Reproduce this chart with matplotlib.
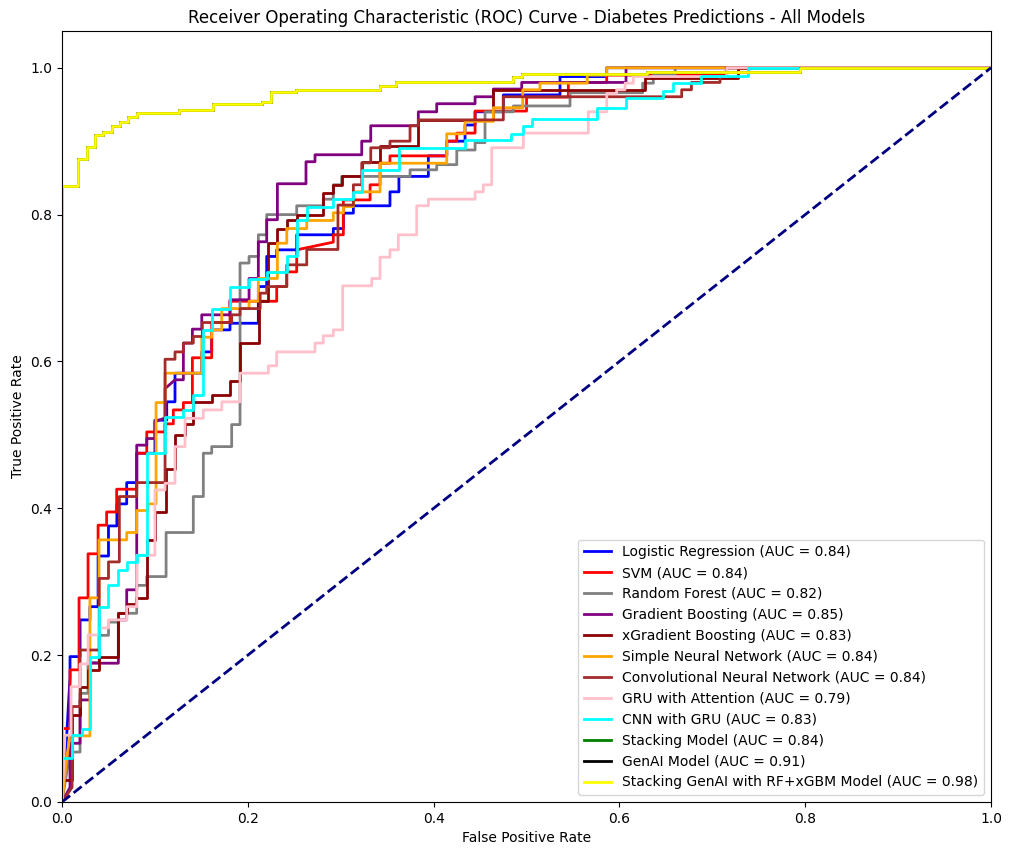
import matplotlib
matplotlib.use("Agg")
import matplotlib.pyplot as plt

# ROC points (fpr, tpr corners)
lr_fpr = [0, 0.005, 0.0086, 0.0086, 0.0194, 0.0194, 0.03, 0.03, 0.0388, 0.0388, 0.05, 0.05, 0.059, 0.059,
          0.0696, 0.0696, 0.0804, 0.0804, 0.10, 0.10, 0.1127, 0.1127, 0.1216, 0.1216, 0.1504, 0.1504, 0.1611,
          0.1611, 0.1808, 0.1808, 0.2113, 0.2113, 0.2203, 0.2203, 0.2311, 0.2311, 0.2526, 0.2526, 0.292, 0.292,
          0.3028, 0.3028, 0.3136, 0.3136, 0.353, 0.353, 0.3626, 0.3626, 0.3943, 0.3943, 0.4141, 0.4141, 0.4338,
          0.4338, 0.4446, 0.4446, 0.475, 0.475, 0.536, 0.536, 0.5863, 0.5863, 1.0]
lr_tpr = [0, 0.09, 0.17, 0.198, 0.198, 0.248, 0.248, 0.266, 0.266, 0.335, 0.335, 0.376, 0.376, 0.406,
          0.406, 0.435, 0.435, 0.475, 0.475, 0.52, 0.52, 0.545, 0.545, 0.584, 0.584, 0.613, 0.613,
          0.643, 0.643, 0.652, 0.652, 0.702, 0.702, 0.743, 0.743, 0.752, 0.752, 0.7725, 0.7725, 0.781,
          0.781, 0.802, 0.802, 0.812, 0.812, 0.831, 0.831, 0.852, 0.852, 0.88, 0.88, 0.90, 0.90,
          0.922, 0.922, 0.94, 0.94, 0.963, 0.963, 0.988, 0.988, 1.0, 1.0]

svm_fpr = [0, 0, 0.0086, 0.0086, 0.0183, 0.0183, 0.028, 0.028, 0.0388, 0.0388, 0.048, 0.048, 0.0588, 0.0588,
           0.0804, 0.0804, 0.0912, 0.0912, 0.1109, 0.1109, 0.1198, 0.1198, 0.1306, 0.1306, 0.1403, 0.1403,
           0.1611, 0.1611, 0.1808, 0.1808, 0.2311, 0.2311, 0.2419, 0.2419, 0.2526, 0.2526, 0.292, 0.292,
           0.3028, 0.3028, 0.3316, 0.3316, 0.3423, 0.3423, 0.353, 0.353, 0.4141, 0.4141, 0.4249, 0.4249,
           0.4446, 0.4446, 0.50, 0.50, 0.545, 0.545, 0.5863, 0.5863, 0.7155, 0.7155, 1.0]
svm_tpr = [0, 0.10, 0.10, 0.18, 0.18, 0.278, 0.278, 0.338, 0.338, 0.377, 0.377, 0.395, 0.395, 0.426,
           0.426, 0.475, 0.475, 0.504, 0.504, 0.515, 0.515, 0.534, 0.534, 0.544, 0.544, 0.605,
           0.605, 0.653, 0.653, 0.682, 0.682, 0.702, 0.702, 0.722, 0.722, 0.752, 0.7625, 0.7725,
           0.7725, 0.82, 0.82, 0.8406, 0.8406, 0.870, 0.870, 0.88, 0.88, 0.90, 0.90, 0.911,
           0.911, 0.941, 0.941, 0.96, 0.96, 0.98, 0.98, 0.99, 0.99, 1.0, 1.0]

rf_fpr = [0, 0.005, 0.0086, 0.0194, 0.0194, 0.028, 0.028, 0.040, 0.040, 0.05, 0.05, 0.0606, 0.0606, 0.0696,
          0.0696, 0.0804, 0.0804, 0.0912, 0.0912, 0.1120, 0.1120, 0.1413, 0.1413, 0.1521, 0.1521, 0.1611,
          0.1611, 0.1826, 0.1826, 0.1916, 0.1916, 0.2013, 0.2013, 0.2113, 0.2113, 0.2203, 0.2203, 0.2526,
          0.2526, 0.2812, 0.2812, 0.292, 0.292, 0.301, 0.301, 0.3746, 0.3746, 0.4033, 0.4033, 0.4249, 0.4249,
          0.4446, 0.4446, 0.4553, 0.4553, 0.4858, 0.4858, 0.5468, 0.5468, 0.625, 0.625, 0.6365, 0.6365,
          0.66, 0.66, 1.0]
rf_tpr = [0, 0.04, 0.068, 0.068, 0.148, 0.148, 0.19, 0.19, 0.227, 0.227, 0.245, 0.245, 0.257, 0.257,
          0.257, 0.257, 0.295, 0.295, 0.307, 0.307, 0.367, 0.367, 0.416, 0.416, 0.475, 0.475,
          0.484, 0.484, 0.514, 0.514, 0.734, 0.734, 0.743, 0.743, 0.7725, 0.7725, 0.80, 0.80,
          0.812, 0.812, 0.821, 0.821, 0.8406, 0.8406, 0.852, 0.852, 0.861, 0.861, 0.868, 0.868, 0.888,
          0.888, 0.898, 0.898, 0.940, 0.940, 0.948, 0.948, 0.966, 0.966, 0.979, 0.979, 0.99,
          0.99, 1.0, 1.0]

gb_fpr = [0, 0.0086, 0.0086, 0.0194, 0.0194, 0.03, 0.03, 0.0606, 0.0606, 0.0696, 0.0696, 0.0804, 0.0804,
          0.0912, 0.0912, 0.10, 0.10, 0.1109, 0.1109, 0.1216, 0.1306, 0.1306, 0.1403, 0.1403, 0.1504, 0.1504,
          0.1808, 0.1808, 0.2013, 0.2013, 0.2113, 0.2113, 0.2203, 0.2203, 0.2318, 0.2318, 0.2626, 0.2626,
          0.2723, 0.2723, 0.3226, 0.3226, 0.3323, 0.3323, 0.3835, 0.3835, 0.4033, 0.4033, 0.4446, 0.4446,
          0.4643, 0.4643, 0.4948, 0.4948, 0.6071, 0.6071, 1.0]
gb_tpr = [0, 0.02, 0.08, 0.08, 0.139, 0.139, 0.189, 0.189, 0.248, 0.248, 0.289, 0.289, 0.486,
          0.486, 0.495, 0.495, 0.518, 0.523, 0.563, 0.575, 0.575, 0.625, 0.625, 0.644, 0.644, 0.6635,
          0.6635, 0.684, 0.684, 0.713, 0.713, 0.763, 0.763, 0.793, 0.793, 0.842, 0.842, 0.872,
          0.872, 0.8815, 0.8815, 0.90, 0.90, 0.921, 0.921, 0.940, 0.940, 0.951, 0.951, 0.9605,
          0.9605, 0.971, 0.971, 0.98, 0.98, 1.0, 1.0]

xgb_fpr = [0, 0, 0.0108, 0.0108, 0.0194, 0.0194, 0.028, 0.028, 0.04, 0.04, 0.0606, 0.0606, 0.0696, 0.0696,
           0.08, 0.08, 0.0918, 0.0918, 0.1, 0.1, 0.1118, 0.1118, 0.122, 0.122, 0.1325, 0.1325, 0.1415, 0.1415,
           0.1611, 0.1611, 0.1808, 0.1808, 0.1916, 0.1916, 0.2124, 0.2124, 0.222, 0.222, 0.2311, 0.2311,
           0.2419, 0.2419, 0.2526, 0.2526, 0.2812, 0.2812, 0.292, 0.292, 0.301, 0.301, 0.3226, 0.3226,
           0.3423, 0.3423, 0.3835, 0.3835, 0.4643, 0.4643, 0.6276, 0.6276, 0.7277, 0.7277, 1.0]
xgb_tpr = [0, 0.03, 0.03, 0.118, 0.118, 0.157, 0.157, 0.18, 0.18, 0.198, 0.198, 0.257, 0.257, 0.27,
           0.27, 0.278, 0.278, 0.357, 0.357, 0.395, 0.395, 0.454, 0.454, 0.50, 0.50, 0.515, 0.515, 0.545,
           0.545, 0.5545, 0.5545, 0.574, 0.574, 0.625, 0.625, 0.682, 0.682, 0.761, 0.761, 0.781,
           0.781, 0.793, 0.793, 0.80, 0.80, 0.83, 0.83, 0.8406, 0.8406, 0.852, 0.852, 0.871,
           0.871, 0.893, 0.893, 0.929, 0.929, 0.97, 0.97, 0.9865, 0.9865, 1.0, 1.0]

snn_fpr = [0, 0.005, 0.0086, 0.03, 0.03, 0.0398, 0.0398, 0.0696, 0.0696, 0.0804, 0.0804, 0.0922, 0.0922,
           0.1012, 0.1012, 0.1109, 0.1109, 0.1504, 0.1504, 0.1611, 0.1611, 0.1719, 0.1719, 0.2013, 0.2013,
           0.2113, 0.2113, 0.2318, 0.2318, 0.2419, 0.2419, 0.2634, 0.2634, 0.292, 0.292, 0.3028, 0.3028,
           0.3136, 0.3136, 0.3423, 0.3423, 0.4141, 0.4141, 0.4338, 0.4338, 0.4643, 0.4643, 0.4959, 0.4959,
           0.5144, 0.5144, 0.5654, 0.5654, 0.5863, 0.5863, 1.0]
snn_tpr = [0, 0.06, 0.09, 0.09, 0.278, 0.278, 0.357, 0.357, 0.367, 0.367, 0.397, 0.397, 0.406,
           0.406, 0.544, 0.544, 0.584, 0.584, 0.633, 0.633, 0.643, 0.643, 0.672, 0.672, 0.682,
           0.682, 0.713, 0.713, 0.761, 0.761, 0.781, 0.781, 0.792, 0.792, 0.8025, 0.8025, 0.811,
           0.811, 0.831, 0.831, 0.870, 0.870, 0.91, 0.91, 0.927, 0.927, 0.9455, 0.9455, 0.97,
           0.97, 0.979, 0.979, 0.99, 0.99, 1.0, 1.0]

cnn_fpr = [0, 0.0108, 0.0108, 0.0194, 0.0194, 0.040, 0.040, 0.05, 0.05, 0.0617, 0.0617, 0.0804, 0.0804,
           0.1109, 0.1109, 0.1216, 0.1216, 0.1306, 0.1306, 0.1413, 0.1413, 0.151, 0.151, 0.1826, 0.1826,
           0.1916, 0.1916, 0.2133, 0.2133, 0.2203, 0.2203, 0.2419, 0.2419, 0.2634, 0.2634, 0.297, 0.297,
           0.3136, 0.3136, 0.3226, 0.3226, 0.3323, 0.3323, 0.353, 0.353, 0.3746, 0.3746, 0.3835, 0.3835,
           0.475, 0.475, 0.667, 0.667, 0.6775, 0.6775, 0.7083, 0.7083, 0.715, 0.715, 1.0]
cnn_tpr = [0, 0.02, 0.13, 0.13, 0.207, 0.207, 0.3045, 0.3045, 0.327, 0.327, 0.416, 0.416, 0.435,
           0.435, 0.603, 0.603, 0.613, 0.613, 0.625, 0.625, 0.634, 0.634, 0.653, 0.653, 0.6635,
           0.6635, 0.672, 0.672, 0.693, 0.693, 0.702, 0.702, 0.7316, 0.7316, 0.7525, 0.7525, 0.813,
           0.813, 0.8406, 0.8406, 0.8705, 0.8705, 0.891, 0.891, 0.90, 0.90, 0.921, 0.921, 0.929,
           0.929, 0.9605, 0.9605, 0.97, 0.97, 0.98, 0.98, 0.988, 0.988, 1.0, 1.0]

gru_fpr = [0, 0.0032, 0.0097, 0.0097, 0.0194, 0.0194, 0.028, 0.028, 0.0397, 0.0397, 0.05, 0.05, 0.0696,
           0.0696, 0.0804, 0.0804, 0.10, 0.10, 0.1109, 0.1109, 0.1216, 0.1216, 0.1324, 0.1324, 0.1521,
           0.1521, 0.172, 0.172, 0.1916, 0.1916, 0.2221, 0.2221, 0.231, 0.231, 0.2723, 0.2723, 0.2812,
           0.2812, 0.292, 0.292, 0.3021, 0.3021, 0.3334, 0.3334, 0.3423, 0.3423, 0.353, 0.353, 0.362,
           0.362, 0.3818, 0.3818, 0.3943, 0.3943, 0.4446, 0.4446, 0.4535, 0.4535, 0.4625, 0.4625, 0.4966,
           0.4966, 0.5665, 0.5665, 0.5863, 0.5863, 0.597, 0.597, 0.606, 0.606, 0.615, 0.615, 0.7155,
           0.7155, 1.0]
gru_tpr = [0, 0.091, 0.091, 0.157, 0.157, 0.188, 0.188, 0.2275, 0.2275, 0.237, 0.237, 0.248, 0.248,
           0.266, 0.266, 0.336, 0.336, 0.425, 0.425, 0.434, 0.434, 0.484, 0.484, 0.5225, 0.5225,
           0.534, 0.534, 0.545, 0.545, 0.584, 0.584, 0.594, 0.594, 0.613, 0.613, 0.625, 0.625,
           0.635, 0.635, 0.643, 0.643, 0.703, 0.703, 0.713, 0.713, 0.742, 0.742, 0.752, 0.752,
           0.7725, 0.7725, 0.812, 0.812, 0.821, 0.821, 0.831, 0.831, 0.8406, 0.8406, 0.891, 0.891,
           0.911, 0.911, 0.940, 0.940, 0.965, 0.965, 0.970, 0.970, 0.979, 0.979, 0.988, 0.988,
           1.0, 1.0]

cnngru_fpr = [0, 0, 0.0108, 0.0108, 0.0215, 0.0215, 0.030, 0.030, 0.040, 0.040, 0.05, 0.05, 0.0606, 0.0606,
              0.0696, 0.0696, 0.0804, 0.0804, 0.0912, 0.0912, 0.1109, 0.1109, 0.1306, 0.1306, 0.1413, 0.1413,
              0.1514, 0.1514, 0.1611, 0.1611, 0.1808, 0.1808, 0.2013, 0.2013, 0.2203, 0.2203, 0.2419, 0.2419,
              0.2526, 0.2526, 0.2634, 0.2634, 0.292, 0.292, 0.3136, 0.3136, 0.3226, 0.3226, 0.363, 0.363,
              0.4338, 0.4338, 0.4838, 0.4838, 0.4959, 0.4959, 0.5056, 0.5056, 0.5762, 0.5762, 0.6071, 0.6071,
              0.6473, 0.6473, 0.6574, 0.6574, 0.6875, 0.6875, 0.7388, 0.7388, 1.0]
cnngru_tpr = [0, 0.06, 0.06, 0.091, 0.091, 0.10, 0.10, 0.198, 0.198, 0.266, 0.266, 0.296, 0.296, 0.316,
              0.316, 0.327, 0.327, 0.3365, 0.3365, 0.475, 0.475, 0.525, 0.525, 0.534, 0.534, 0.5545,
              0.5545, 0.643, 0.643, 0.672, 0.672, 0.702, 0.702, 0.7125, 0.7125, 0.7215, 0.7215, 0.743,
              0.743, 0.793, 0.793, 0.811, 0.811, 0.821, 0.821, 0.831, 0.831, 0.861, 0.861, 0.891,
              0.891, 0.901, 0.901, 0.91, 0.91, 0.921, 0.921, 0.930, 0.930, 0.9455, 0.9455, 0.959,
              0.959, 0.969, 0.969, 0.979, 0.979, 0.989, 0.989, 1.0, 1.0]

# stacking / genai curves sit under the yellow one
stack_fpr = [0, 0, 0.0175, 0.0175, 0.0266, 0.0266, 0.0355, 0.0355, 0.0445, 0.0445, 0.054, 0.054, 0.0624,
             0.0624, 0.0714, 0.0714, 0.081, 0.081, 0.126, 0.126, 0.162, 0.162, 0.2156, 0.2156, 0.2246, 0.2246,
             0.252, 0.252, 0.342, 0.342, 0.3595, 0.3595, 0.4858, 0.4858, 0.4948, 0.4948, 0.6294, 0.6294,
             0.7944, 0.7944, 1.0]
stack_tpr = [0, 0.839, 0.839, 0.876, 0.876, 0.8925, 0.8925, 0.909, 0.909, 0.913, 0.913, 0.921, 0.921,
             0.926, 0.926, 0.933, 0.933, 0.938, 0.938, 0.942, 0.942, 0.950, 0.950, 0.954, 0.954, 0.967,
             0.967, 0.970, 0.970, 0.9755, 0.9755, 0.980, 0.980, 0.988, 0.988, 0.991, 0.991, 0.9946,
             0.9946, 1.0, 1.0]

model_names = ["Logistic Regression", "SVM", "Random Forest", "Gradient Boosting", "xGradient Boosting",
               "Simple Neural Network", "Convolutional Neural Network", "GRU with Attention", "CNN with GRU",
               "Stacking Model", "GenAI Model", "Stacking GenAI with RF+xGBM Model"]
auc_values = [0.84, 0.84, 0.82, 0.85, 0.83, 0.84, 0.84, 0.79, 0.83, 0.84, 0.91, 0.98]
colors = ["blue", "red", "gray", "purple", "darkred", "orange", "brown", "pink", "cyan",
          "green", "black", "yellow"]

curves = [(lr_fpr, lr_tpr), (svm_fpr, svm_tpr), (rf_fpr, rf_tpr), (gb_fpr, gb_tpr), (xgb_fpr, xgb_tpr),
          (snn_fpr, snn_tpr), (cnn_fpr, cnn_tpr), (gru_fpr, gru_tpr), (cnngru_fpr, cnngru_tpr),
          (stack_fpr, stack_tpr), (stack_fpr, stack_tpr), (stack_fpr, stack_tpr)]

fig = plt.figure(figsize=(10.12, 8.55), dpi=100)
ax = fig.add_axes([0.0613, 0.062, 0.918, 0.9017])

for (fpr, tpr), name, auc, c in zip(curves, model_names, auc_values, colors):
    ax.plot(fpr, tpr, color=c, lw=2, label=f"{name} (AUC = {auc:.2f})")

ax.plot([0, 1], [0, 1], color="navy", lw=2, linestyle="--")
ax.set_xlim([0.0, 1.0])
ax.set_ylim([0.0, 1.05])
ax.set_xlabel("False Positive Rate")
ax.set_ylabel("True Positive Rate")
ax.set_title("Receiver Operating Characteristic (ROC) Curve - Diabetes Predictions - All Models")
ax.legend(loc="lower right")

fig.savefig("out.png", dpi=100)
